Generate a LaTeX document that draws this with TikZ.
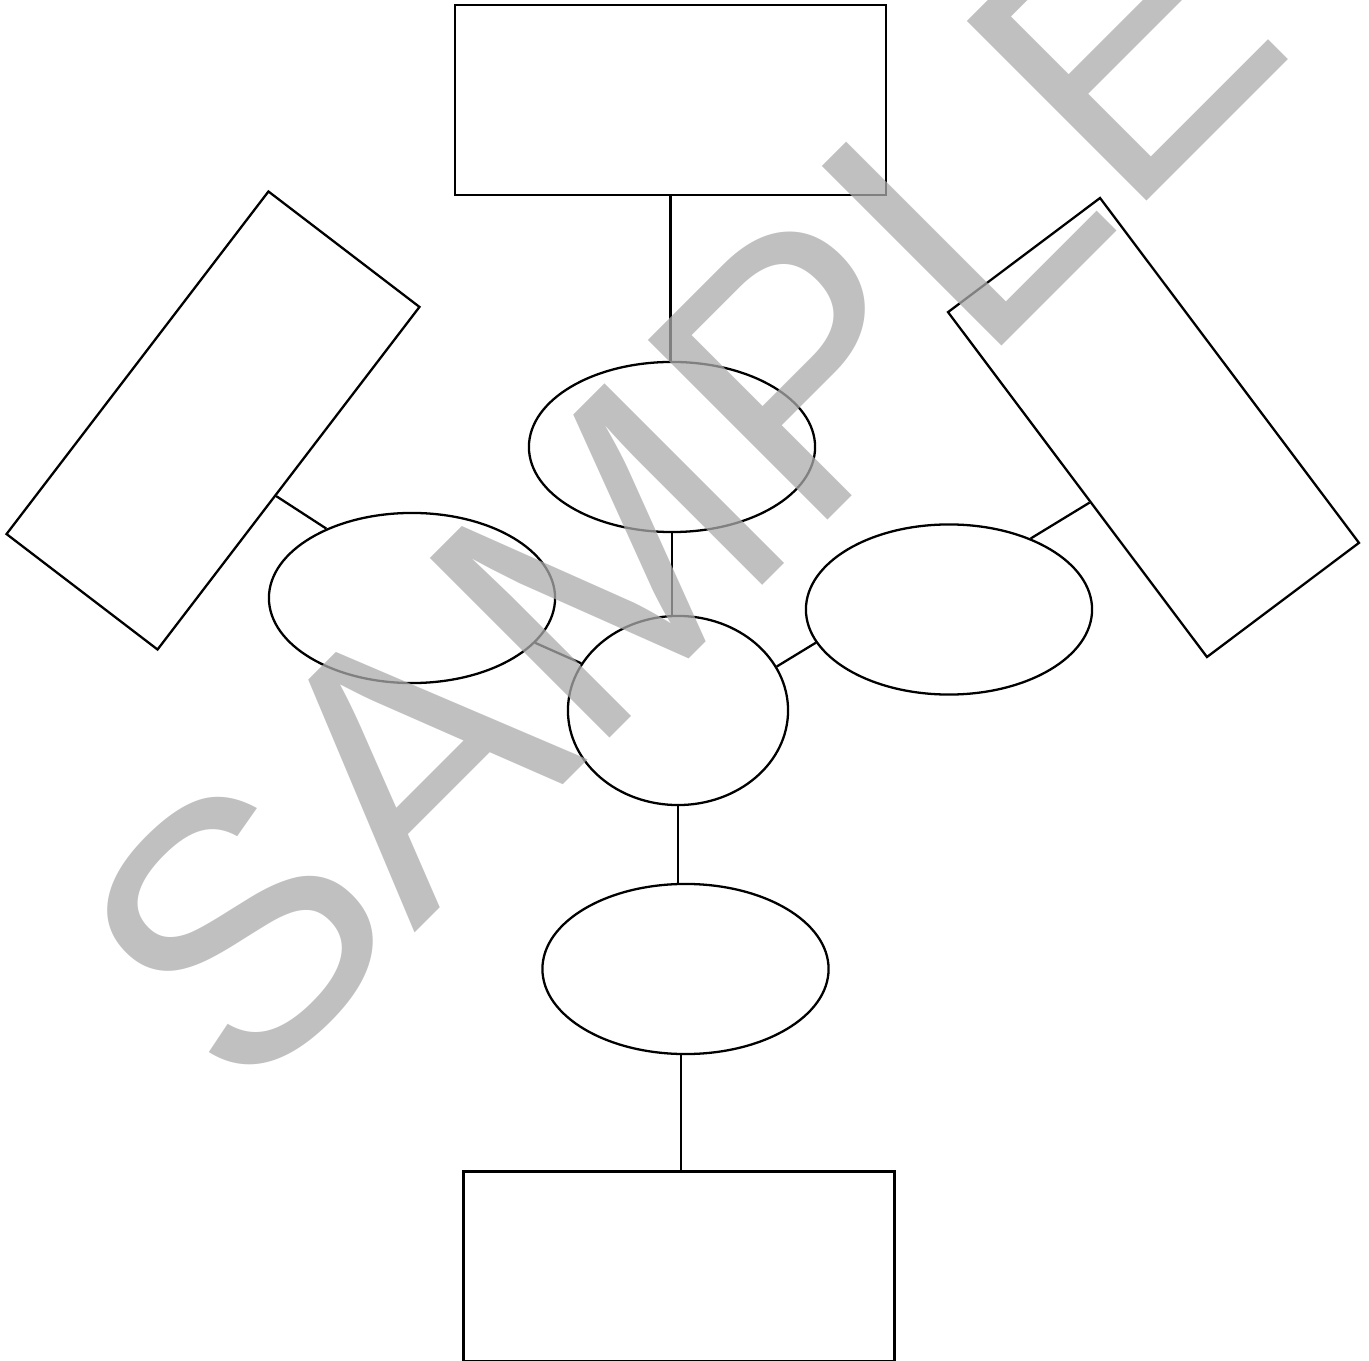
\documentclass[tikz,border=0pt]{standalone}
\usepackage{fontspec}
\newfontfamily\wmfont{Liberation Sans}
\usetikzlibrary{shapes.geometric,calc}
\begin{document}
\begin{tikzpicture}[x=0.01cm,y=-0.01cm,
  box/.style={draw,rectangle,inner sep=0pt,minimum width=4.31cm,minimum height=1.9cm,line width=0.65pt},
  oval/.style={draw,ellipse,inner sep=0pt,minimum width=2.86cm,minimum height=1.7cm,line width=0.65pt},
  link/.style={line width=0.65pt},
  wmark/.style={font=\wmfont\fontsize{105}{105}\selectfont,text=black!33,text opacity=0.75,inner sep=0pt}]
\useasboundingbox (0,0) rectangle (1369,1361);
% boxes
\node[box] (trect) at (670.5,100) {};
\node[box] (brect) at (679,1266.5) {};
\node[box,rotate=52.6] (lrect) at (213,420.5) {};
\node[box,rotate=-53.1] (rrect) at (1153.5,427.5) {};
% ovals
\node[oval] (tell) at (672,447) {};
\node[oval] (lell) at (412,598) {};
\node[oval] (rell) at (949,609.5) {};
\node[oval,minimum width=2.2cm,minimum height=1.89cm] (cell) at (678,710.5) {};
\node[oval] (bell) at (685.5,969) {};
% connectors
\draw[link] (trect.south) -- (trect.south |- tell.north);
\draw[link] (tell.south) -- (tell.south |- cell.north);
\draw[link] ($(lrect.south west)!0.45!(lrect.south east)$) -- (lell.141);
\draw[link] (lell.-20) -- (cell.154);
\draw[link] (cell.24) -- (rell.194);
\draw[link] (rell.41) -- ($(rrect.south west)!0.55!(rrect.south east)$);
\draw[link] (cell.south) -- (cell.south |- bell.north);
\draw[link] (bell.-93) -- (bell.-93 |- brect.north);
% watermark
\node[wmark,rotate=45,anchor=base] (wm) at (770,578) {SAMPLE};
\end{tikzpicture}
\end{document}
